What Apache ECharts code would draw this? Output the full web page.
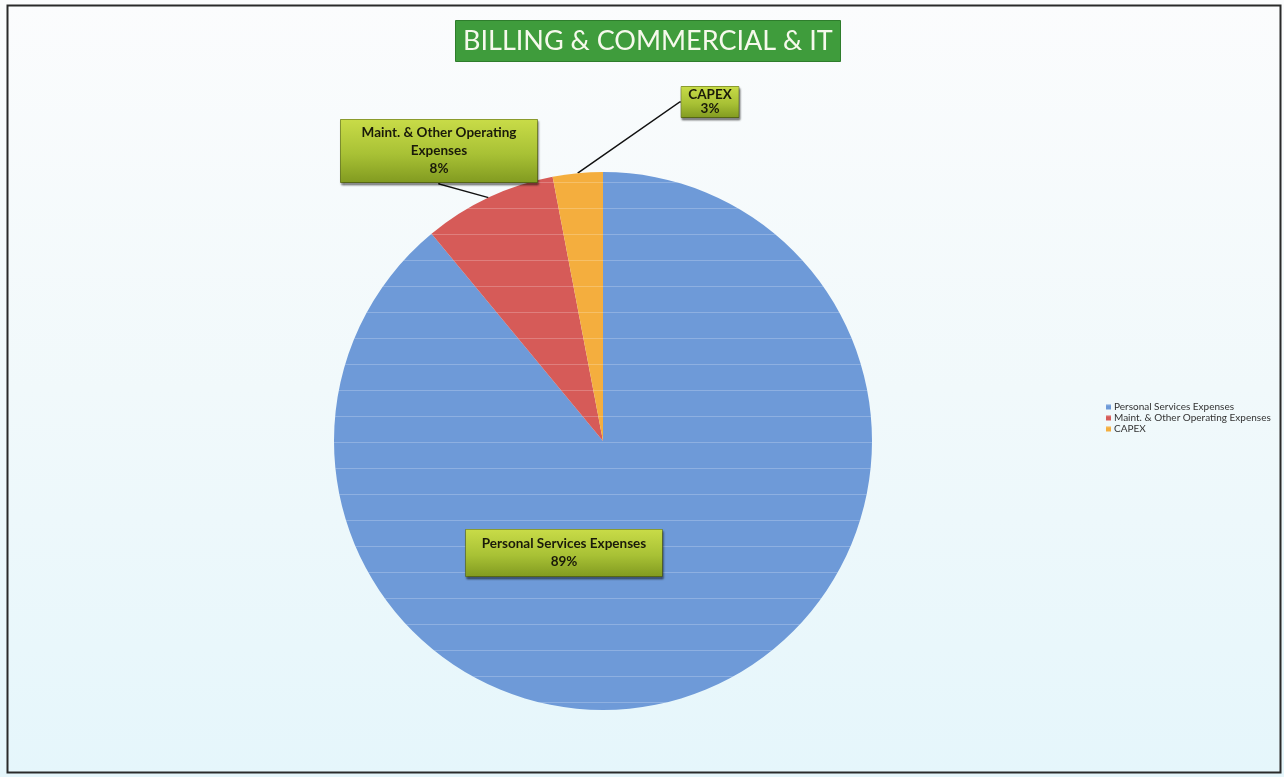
<!DOCTYPE html>
<html>
<head>
<meta charset="utf-8">
<script src="https://cdn.jsdelivr.net/npm/echarts@6/dist/echarts.min.js"></script>
<style>
  html, body { margin: 0; padding: 0; background: #ffffff; }
  #chart { width: 1284px; height: 777px; }
</style>
</head>
<body>
<div id="chart"></div>
<script>
// Budget split for the Billing & Commercial & IT unit (percent of total)
const categories = ['Personal Services Expenses', 'Maint. & Other Operating Expenses', 'CAPEX'];
const shares = [89, 8, 3];
const labelNames = ['Personal Services Expenses', 'Maint. & Other Operating\nExpenses', 'CAPEX'];
const sliceColors = ['#6e9ad8', '#d65b58', '#f4ae3e'];

// Where each data label box sits (pixel centre), its padding and line spacing
const labelSpots = [
  { x: 564, y: 553, pad: [6, 16, 5, 16], lh: 18 },
  { x: 439, y: 151, pad: [5, 21, 4, 21], lh: 18 },
  { x: 710, y: 102, pad: [2, 7, 1, 7], lh: 14 }
];

const chart = echarts.init(document.getElementById('chart'), null, { renderer: 'canvas' });

const boxFill = {
  type: 'linear', x: 0, y: 0, x2: 0, y2: 1,
  colorStops: [
    { offset: 0, color: '#c9dc48' },
    { offset: 0.55, color: '#a8c135' },
    { offset: 1, color: '#819a20' }
  ]
};

const data = categories.map((name, i) => ({
  name: name,
  value: shares[i],
  itemStyle: { color: sliceColors[i] },
  label: {
    position: i === 0 ? 'inside' : 'outside',
    padding: labelSpots[i].pad,
    lineHeight: labelSpots[i].lh
  },
  labelLine: { show: i !== 0 }
}));

chart.setOption({
  backgroundColor: {
    type: 'linear', x: 0, y: 0, x2: 0, y2: 1,
    colorStops: [
      { offset: 0, color: '#fbfcfd' },
      { offset: 0.5, color: '#f1f9fb' },
      { offset: 1, color: '#e5f6fb' }
    ]
  },
  animation: false,
  title: {
    text: 'BILLING & COMMERCIAL & IT',
    left: 455,
    top: 20,
    padding: [8, 8, 7, 8],
    backgroundColor: '#3f9c3c',
    borderColor: '#2e7d2c',
    borderWidth: 1,
    textStyle: {
      fontFamily: 'Lato',
      fontSize: 27,
      fontWeight: 'normal',
      color: '#f6f9ec'
    }
  },
  legend: {
    orient: 'vertical',
    left: 1101,
    top: 397,
    itemWidth: 5,
    itemHeight: 5,
    itemGap: 1,
    icon: 'rect',
    data: categories,
    textStyle: { fontFamily: 'Lato', fontSize: 10, color: '#333', padding: [0, 0, 0, -2] }
  },
  graphic: [{
    type: 'rect',
    shape: { x: 7.5, y: 5.5, width: 1273, height: 767 },
    style: { fill: 'none', stroke: '#2a2a2a', lineWidth: 2 },
    silent: true,
    z: 100
  }],
  series: [{
    type: 'pie',
    center: [603, 441],
    radius: 269,
    startAngle: 90,
    clockwise: true,
    data: data,
    itemStyle: {
      decal: {
        symbol: 'rect',
        symbolSize: 1,
        dashArrayX: [1, 0],
        dashArrayY: [1, 24.5],
        color: 'rgba(255,255,255,0.22)',
        rotation: 0
      }
    },
    label: {
      show: true,
      formatter: p => labelNames[p.dataIndex] + '\n' + p.value + '%',
      fontFamily: 'Lato',
      fontSize: 13.5,
      fontWeight: 'bold',
      color: '#1a1a0a',
      align: 'center',
      backgroundColor: boxFill,
      borderColor: '#4d5a12',
      borderWidth: 0.5,
      shadowColor: 'rgba(0,0,0,0.45)',
      shadowOffsetX: 1,
      shadowOffsetY: 2,
      shadowBlur: 2
    },
    labelLine: {
      lineStyle: { color: '#111', width: 1.5 },
      length: 1,
      length2: 1
    },
    labelLayout: function (params) {
      const s = labelSpots[params.dataIndex];
      return {
        x: s.x,
        y: s.y,
        align: 'center',
        verticalAlign: 'middle'
      };
    }
  }]
});
</script>
</body>
</html>
